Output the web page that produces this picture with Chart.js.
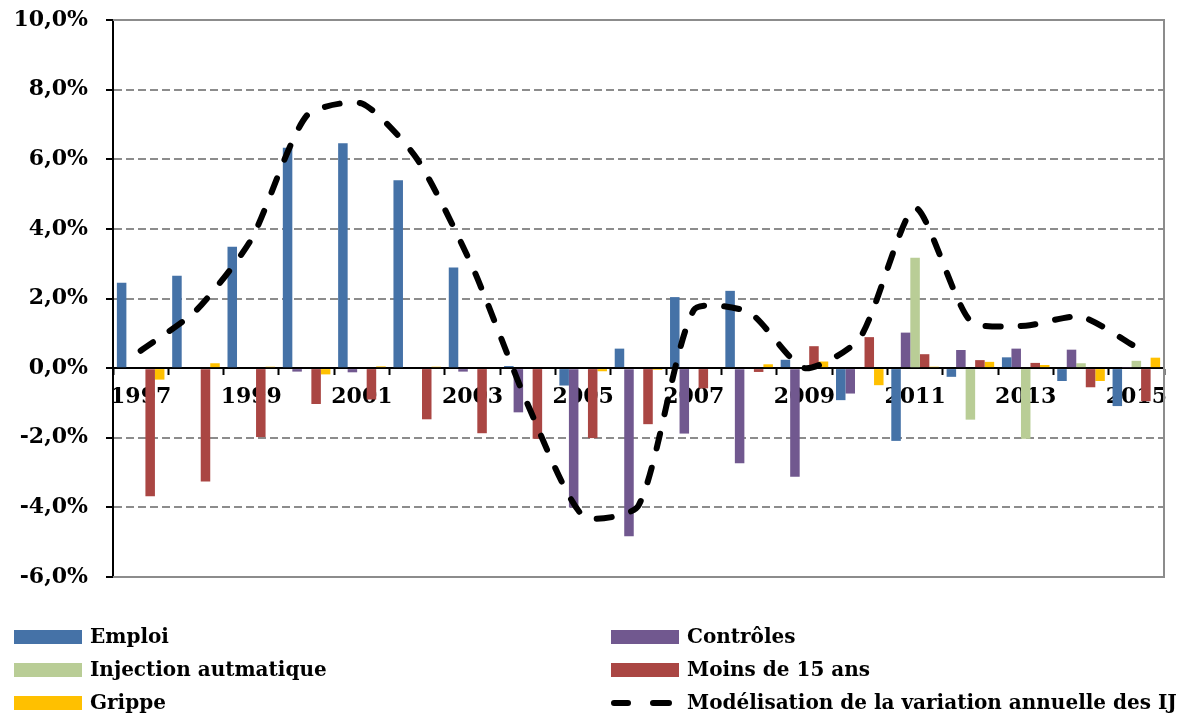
<!DOCTYPE html>
<html>
<head>
<meta charset="utf-8">
<script src="https://cdn.jsdelivr.net/npm/chart.js@4"></script>
<style>
  html, body { margin: 0; padding: 0; background: #ffffff; }
  #wrap { width: 1180px; height: 717px; }
</style>
</head>
<body>
<div id="wrap"><canvas id="c" width="1180" height="717"></canvas></div>
<script>
// Années
const years = ['1997','1998','1999','2000','2001','2002','2003','2004','2005','2006',
               '2007','2008','2009','2010','2011','2012','2013','2014','2015'];

// Contributions à la variation annuelle (%)
const emploi     = [2.45, 2.65, 3.49, 6.33, 6.46, 5.40, 2.89, 0.06, -0.50, 0.56,
                    2.04, 2.22, 0.24, -0.92, -2.09, -0.25, 0.31, -0.37, -1.09];
const controles  = [null, null, null, -0.10, -0.12, null, -0.10, -1.27, -4.00, -4.83,
                    -1.88, -2.73, -3.12, -0.73, 1.02, 0.52, 0.56, 0.53, 0.02];
const injection  = [null, null, null, null, null, null, null, null, null, null,
                    null, null, null, null, 3.17, -1.48, -2.03, 0.14, 0.21];
const moins15    = [-3.68, -3.26, -1.98, -1.03, -0.90, -1.47, -1.87, -2.03, -2.01, -1.61,
                    -0.58, -0.11, 0.63, 0.89, 0.40, 0.23, 0.15, -0.55, -0.95];
const grippe     = [-0.33, 0.14, 0.04, -0.18, 0.05, 0.04, null, null, -0.09, -0.05,
                    null, 0.11, 0.19, -0.49, 0.04, 0.18, 0.09, -0.37, 0.30];
const modelisation = [0.50, 1.65, 3.70, 7.25, 7.60, 6.00, 2.90, -1.05, -4.25, -3.95,
                      1.67, 1.60, 0.00, 0.86, 4.60, 1.35, 1.22, 1.48, 0.60];

// Graduations de l'axe vertical
const yTicks = [-6, -4, -2, 0, 2, 4, 6, 8, 10];

const FONT = '"DejaVu Serif", "Liberation Serif", serif';

function fmtPct(v) {
  return v.toFixed(1).replace('.', ',') + '%';
}

// Légende sur deux colonnes, dessinée sous le graphique
const twoColumnLegend = {
  id: 'twoColumnLegend',
  afterDraw(chart) {
    const ctx = chart.ctx;
    const ds = chart.data.datasets;
    const cols = [{ sw: 14, tx: 90 }, { sw: 611, tx: 687 }];
    const rows = [637, 670, 703];
    ctx.save();
    ctx.font = 'bold 20px ' + FONT;
    ctx.textBaseline = 'middle';
    ctx.textAlign = 'left';
    ds.forEach((d, i) => {
      const c = cols[i % 2];
      const y = rows[Math.floor(i / 2)];
      if (d.type === 'line') {
        ctx.strokeStyle = d.borderColor;
        ctx.lineWidth = 6;
        ctx.lineCap = 'round';
        ctx.beginPath();
        ctx.moveTo(c.sw + 3, y); ctx.lineTo(c.sw + 17, y);
        ctx.moveTo(c.sw + 42, y); ctx.lineTo(c.sw + 58, y);
        ctx.stroke();
      } else {
        ctx.fillStyle = d.backgroundColor;
        ctx.fillRect(c.sw, y - 7, 68, 14);
      }
      ctx.fillStyle = '#000000';
      ctx.fillText(d.label, c.tx, y + 1);
    });
    ctx.restore();
  }
};

// Cadre gris autour de la zone de tracé
const plotFrame = {
  id: 'plotFrame',
  beforeDatasetsDraw(chart) {
    const { left, right, top, bottom } = chart.chartArea;
    const ctx = chart.ctx;
    ctx.save();
    ctx.strokeStyle = '#8c8c8c';
    ctx.lineWidth = 2;
    ctx.beginPath();
    ctx.moveTo(left, top); ctx.lineTo(right, top); ctx.lineTo(right, bottom); ctx.lineTo(left, bottom);
    ctx.stroke();
    ctx.restore();
  }
};

new Chart(document.getElementById('c'), {
  data: {
    labels: years,
    datasets: [
      { type: 'bar', label: 'Emploi', data: emploi, backgroundColor: '#4572A7', order: 1 },
      { type: 'bar', label: 'Contrôles', data: controles, backgroundColor: '#71588F', order: 1 },
      { type: 'bar', label: 'Injection autmatique', data: injection, backgroundColor: '#B9CD96', order: 1 },
      { type: 'bar', label: 'Moins de 15 ans', data: moins15, backgroundColor: '#AA4643', order: 1 },
      { type: 'bar', label: 'Grippe', data: grippe, backgroundColor: '#FFC000', order: 1 },
      { type: 'line', label: 'Modélisation de la variation annuelle des IJ', data: modelisation,
        borderColor: '#000000', borderWidth: 6, borderDash: [15, 20], borderCapStyle: 'round',
        pointRadius: 0, tension: 0.22, fill: false, order: 0 }
    ]
  },
  options: {
    responsive: false,
    animation: false,
    devicePixelRatio: 1,
    layout: { padding: { left: 0, top: 20, right: 16, bottom: 140 } },
    datasets: {
      bar: { categoryPercentage: 0.86, barPercentage: 1.0, borderWidth: 0 }
    },
    plugins: {
      legend: { display: false },
      tooltip: { enabled: false }
    },
    scales: {
      x: {
        position: { y: 0 },
        offset: true,
        afterFit(scale) { scale.paddingLeft = 0; scale.paddingRight = 0; },
        grid: {
          offset: true,
          drawOnChartArea: false,
          drawTicks: true,
          tickLength: 6,
          tickColor: '#000000',
          tickWidth: 2
        },
        border: { display: true, color: '#000000', width: 2 },
        ticks: {
          autoSkip: false,
          maxRotation: 0,
          padding: 10,
          color: '#000000',
          font: { family: FONT, size: 22, weight: 'bold' },
          callback: (v, i) => (i % 2 === 0 ? years[i] : '')
        }
      },
      y: {
        min: yTicks[0],
        max: yTicks[yTicks.length - 1],
        afterFit(scale) { scale.width = 113; scale.paddingTop = 0; scale.paddingBottom = 0; },
        afterBuildTicks(scale) { scale.ticks = yTicks.map(v => ({ value: v })); },
        grid: {
          color: c => (c.tick && (c.tick.value === 0 || c.tick.value === 10 || c.tick.value === -6)) ? 'rgba(0,0,0,0)' : '#8c8c8c',
          lineWidth: 2,
          drawTicks: true,
          tickLength: 7,
          tickColor: '#000000',
          tickWidth: 2,
          tickBorderDash: []
        },
        border: { display: true, color: '#000000', width: 2, dash: [8, 4] },
        ticks: {
          padding: 18,
          color: '#000000',
          font: { family: FONT, size: 22, weight: 'bold' },
          callback: v => fmtPct(v)
        }
      }
    }
  },
  plugins: [plotFrame, twoColumnLegend]
});
</script>
</body>
</html>
